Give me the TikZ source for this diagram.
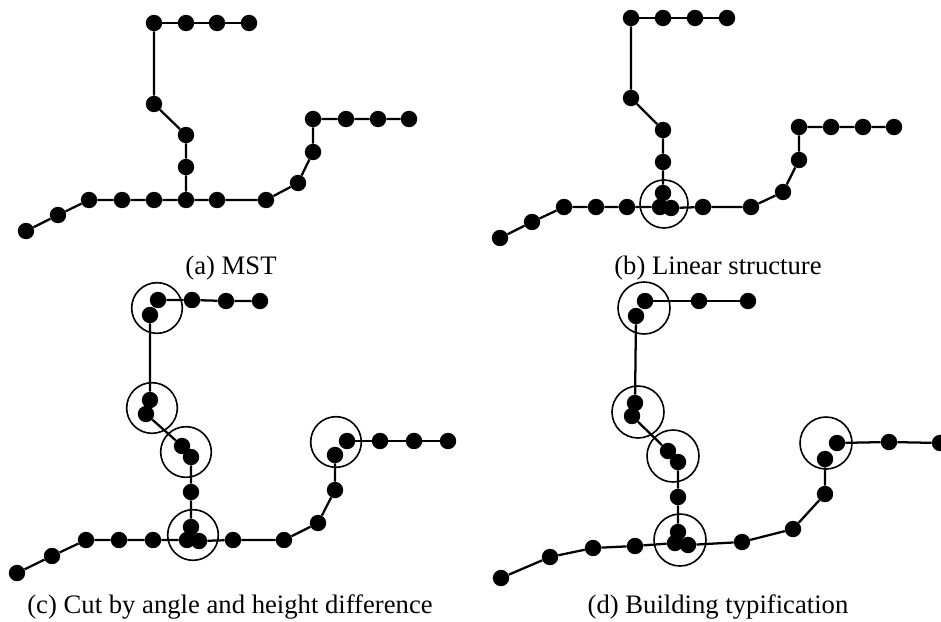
\documentclass[tikz,border=0pt]{standalone}
\usepackage{fontspec}
\setmainfont{Liberation Serif}
\begin{document}
\begin{tikzpicture}[x=0.75pt,y=-0.75pt,
  dot/.style={circle,fill=black,inner sep=0pt,minimum size=12.3pt},
  ring/.style={circle,draw=black,line width=1.2pt,inner sep=0pt,minimum size=#1},
  ring/.default=38pt,
  edge/.style={line width=1.7pt},
  captext/.style={anchor=base,font=\fontsize{20}{23}\selectfont}]
\useasboundingbox (0,0) rectangle (941,621);
% ---------------- (a) ----------------
\foreach \n/\x/\y in {a1/154/23,a2/186/23,a3/217/23,a4/249/23,a5/154/104,a6/186/135,a7/186/167,a8/186/200,
  a9/26/231,a10/58/215,a11/89/200,a12/122/200,a13/154/200,a14/217/200,a15/266/200,a16/298/183,a17/313/152,
  a18/313/119,a19/346/119,a20/378/119,a21/409/119}
  \node[dot] (\n) at (\x,\y) {};
\draw[edge] (a1)--(a2)--(a3)--(a4);
\draw[edge] (a1)--(a5)--(a6)--(a7)--(a8);
\draw[edge] (a9)--(a10)--(a11)--(a12)--(a13)--(a8)--(a14)--(a15)--(a16)--(a17)--(a18)--(a19)--(a20)--(a21);
\node[captext] (capa) at (231,274) {(a) MST};
% ---------------- (b) ----------------
\foreach \n/\x/\y in {b1/631/18,b2/663/18,b3/695/18,b4/727/18,b5/631/98,b6/663/130,b7/663/162,b8/663/193,
  b9/660/207,b10/671/208,b11/500/238,b12/532/222,b13/564/207,b14/596/207,b15/627/207,b16/703/207,b17/751/207,
  b18/783/192,b19/799/160,b20/799/127,b21/831/127,b22/863/127,b23/894/127}
  \node[dot] (\n) at (\x,\y) {};
\draw[edge] (b1)--(b2)--(b3)--(b4);
\draw[edge] (b1)--(b5)--(b6)--(b7)--(b8);
\draw[edge] (b11)--(b12)--(b13)--(b14)--(b15)--(b9)--(b10)--(b16)--(b17)--(b18)--(b19)--(b20)--(b21)--(b22)--(b23);
\node[ring=36pt] (rb1) at (664,204) {};
\node[captext] (capb) at (718,274) {(b) Linear structure};
% ---------------- (c) ----------------
\foreach \n/\x/\y in {c1/158/300,c2/192/300,c3/226/301,c4/260/301,c5/150/315,c6/150/400,c7/146/414,
  c8/182/446,c9/191/457,c10/191/492,c11/191/527,c12/187/540,c13/199/541,
  c14/17/573,c15/52/556,c16/86/540,c17/119/540,c18/153/540,c19/233/540,c20/284/540,c21/318/523,
  c22/335/490,c23/335/455,c24/347/441,c25/380/441,c26/414/441,c27/448/441}
  \node[dot] (\n) at (\x,\y) {};
\draw[edge] (c1)--(c2)--(c3)--(c4);
\draw[edge] (c5)--(c6)--(c7)--(c8)--(c9)--(c10)--(c11);
\draw[edge] (c14)--(c15)--(c16)--(c17)--(c18)--(c12)--(c13)--(c19)--(c20)--(c21)--(c22)--(c23);
\draw[edge] (c24)--(c25)--(c26)--(c27);
\node[ring] (rc1) at (157,308) {};
\node[ring] (rc2) at (152,408) {};
\node[ring] (rc3) at (186,452) {};
\node[ring] (rc4) at (193,535) {};
\node[ring] (rc5) at (336,442) {};
\node[captext] (capc) at (230,613) {(c) Cut by angle and height difference};
% ---------------- (d) ----------------
\foreach \n/\x/\y in {d1/645/301,d2/699/301,d3/748/301,d4/636/316,d5/635/403,d6/632/416,
  d7/668/451,d8/678/462,d9/678/497,d10/678/532,d11/675/543,d12/688/545,
  d13/501/578,d14/550/557,d15/593/548,d16/635/546,d17/742/542,d18/793/529,d19/825/494,d20/825/459,
  d21/837/443,d22/889/442,d23/940/443}
  \node[dot] (\n) at (\x,\y) {};
\draw[edge] (d1)--(d2)--(d3);
\draw[edge] (d4)--(d5)--(d6)--(d7)--(d8)--(d9)--(d10);
\draw[edge] (d13)--(d14)--(d15)--(d16)--(d11)--(d12)--(d17)--(d18)--(d19)--(d20);
\draw[edge] (d21)--(d22)--(d23);
\node[ring=39pt] (rd1) at (644,308) {};
\node[ring=39pt] (rd2) at (638,412) {};
\node[ring=39pt] (rd3) at (673,456) {};
\node[ring=39pt] (rd4) at (680,540) {};
\node[ring=39pt] (rd5) at (826,443) {};
\node[captext] (capd) at (718,613) {(d) Building typification};
\end{tikzpicture}
\end{document}
